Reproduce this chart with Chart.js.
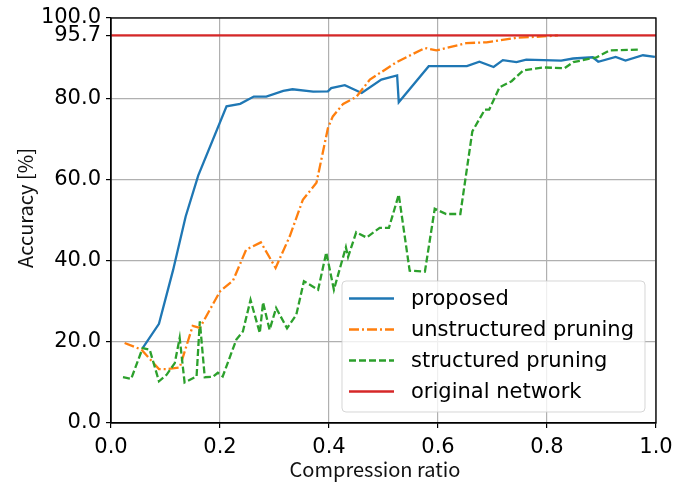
<!DOCTYPE html>
<html>
<head>
<meta charset="utf-8">
<script src="https://cdn.jsdelivr.net/npm/chart.js@4/dist/chart.umd.min.js"></script>
<style>
  html, body { margin: 0; padding: 0; background: #fff; }
  #wrap { width: 673px; height: 482px; position: relative; }
</style>
</head>
<body>
<div id="wrap"><canvas id="c" width="673" height="482"></canvas></div>
<script>
// ---- data ----
const seriesNames = ['proposed', 'unstructured pruning', 'structured pruning', 'original network'];

const proposedX = [0.058,0.088,0.114,0.137,0.16,0.212,0.237,0.262,0.285,0.316,0.333,0.371,0.398,0.404,0.429,0.46,0.496,0.525,0.528,0.583,0.653,0.676,0.702,0.719,0.744,0.762,0.826,0.848,0.884,0.894,0.926,0.944,0.976,0.998];
const proposedY = [18.5,24.5,37.8,51,61.1,78.2,78.8,80.6,80.6,82.0,82.4,81.8,81.9,82.7,83.4,81.5,84.8,85.8,79.2,88.1,88.1,89.2,87.9,89.6,89.1,89.7,89.5,90.0,90.3,89.2,90.4,89.5,90.8,90.4];

const unstructuredX = [0.025,0.056,0.088,0.102,0.126,0.15,0.163,0.2,0.224,0.248,0.275,0.302,0.328,0.352,0.377,0.398,0.407,0.426,0.45,0.475,0.524,0.576,0.597,0.652,0.689,0.744,0.799,0.82];
const unstructuredY = [19.75,18.1,13.3,13.3,13.7,24,23.5,32.5,35.2,42.8,44.6,38.3,46.1,55.1,59.3,72.8,75.7,78.8,80.5,84.8,89.1,92.6,92.0,93.8,94.0,95.1,95.5,95.7];

const structuredX = [0.022,0.037,0.058,0.071,0.088,0.102,0.117,0.126,0.135,0.157,0.163,0.172,0.187,0.196,0.205,0.23,0.242,0.256,0.273,0.279,0.291,0.303,0.323,0.34,0.354,0.38,0.395,0.409,0.431,0.435,0.45,0.469,0.493,0.51,0.528,0.548,0.576,0.594,0.615,0.641,0.663,0.686,0.694,0.713,0.735,0.757,0.793,0.832,0.848,0.891,0.915,0.967];
const structuredY = [11.3,10.9,18.5,18.1,10.3,11.9,14.8,21.0,10.0,11.5,25.1,11.3,11.4,12.4,11.5,20.6,22.6,30.4,22.2,29.8,23.0,28.4,23.4,26.7,35.0,32.9,42.1,32.9,43.4,41.0,47.1,45.8,48.2,48.2,56.4,37.6,37.4,52.9,51.6,51.6,72.0,77.4,77.4,82.9,84.4,87.1,87.8,87.6,89.1,90.3,92.0,92.2];

const originalX = [0, 1];
const originalY = [95.7, 95.7];

const xTicks = [0, 0.2, 0.4, 0.6, 0.8, 1.0];
const yTicks = [0, 20, 40, 60, 80, 95.7, 100];

const xTitle = 'Compression ratio';
const yTitle = 'Accuracy [%]';

const pts = (xs, ys) => xs.map((x, i) => ({ x: x, y: ys[i] }));

const TICK_FONT = { family: 'DejaVu Sans', size: 21 };

const framePlugin = {
  id: 'frameAndLegend',
  afterDraw(chart) {
    const ctx = chart.ctx;
    const a = chart.chartArea;
    ctx.save();
    // axes frame
    ctx.strokeStyle = '#000';
    ctx.lineWidth = 1.3;
    ctx.strokeRect(a.left, a.top, a.right - a.left, a.bottom - a.top);

    // axis titles
    ctx.fillStyle = '#111';
    ctx.font = '20px "Noto Sans CJK JP", "Noto Sans", sans-serif';
    ctx.textAlign = 'center';
    ctx.textBaseline = 'middle';
    ctx.fillText(xTitle, 375, 469);
    ctx.save();
    ctx.translate(25, 208);
    ctx.rotate(-Math.PI / 2);
    ctx.fillText(yTitle, 0, 0);
    ctx.restore();

    // legend
    const bx = 342, by = 281, bw = 303, bh = 131, r = 4;
    ctx.beginPath();
    ctx.moveTo(bx + r, by);
    ctx.lineTo(bx + bw - r, by);
    ctx.quadraticCurveTo(bx + bw, by, bx + bw, by + r);
    ctx.lineTo(bx + bw, by + bh - r);
    ctx.quadraticCurveTo(bx + bw, by + bh, bx + bw - r, by + bh);
    ctx.lineTo(bx + r, by + bh);
    ctx.quadraticCurveTo(bx, by + bh, bx, by + bh - r);
    ctx.lineTo(bx, by + r);
    ctx.quadraticCurveTo(bx, by, bx + r, by);
    ctx.closePath();
    ctx.fillStyle = 'rgba(255,255,255,0.8)';
    ctx.fill();
    ctx.strokeStyle = 'rgba(204,204,204,0.8)';
    ctx.lineWidth = 1;
    ctx.stroke();

    const rows = chart.data.datasets.slice().sort((p, q) => p.legendIndex - q.legendIndex);
    rows.forEach((ds, i) => {
      const y = 298.5 + i * 31;
      ctx.beginPath();
      ctx.setLineDash(ds.borderDash || []);
      ctx.strokeStyle = ds.borderColor;
      ctx.lineWidth = ds.borderWidth;
      ctx.moveTo(349, y);
      ctx.lineTo(394, y);
      ctx.stroke();
      ctx.setLineDash([]);
      ctx.fillStyle = '#000';
      ctx.font = '21px "DejaVu Sans"';
      ctx.textAlign = 'left';
      ctx.textBaseline = 'middle';
      ctx.fillText(ds.label, 411, y + 1);
    });
    ctx.restore();
  }
};

new Chart(document.getElementById('c'), {
  type: 'line',
  data: {
    datasets: [
      { label: seriesNames[0], data: pts(proposedX, proposedY), borderColor: '#1f77b4', borderWidth: 2.3, order: 4, legendIndex: 0 },
      { label: seriesNames[1], data: pts(unstructuredX, unstructuredY), borderColor: '#ff7f0e', borderWidth: 2.3, borderDash: [10, 3, 2, 3], order: 3, legendIndex: 1 },
      { label: seriesNames[2], data: pts(structuredX, structuredY), borderColor: '#2ca02c', borderWidth: 2.3, borderDash: [7, 3], order: 2, legendIndex: 2 },
      { label: seriesNames[3], data: pts(originalX, originalY), borderColor: '#d62728', borderWidth: 2.3, order: 1, legendIndex: 3 }
    ]
  },
  options: {
    responsive: false,
    animation: false,
    devicePixelRatio: 1,
    layout: { padding: { left: 0, right: 17, top: 18, bottom: 0 } },
    elements: { point: { radius: 0 }, line: { tension: 0, fill: false } },
    plugins: { legend: { display: false }, tooltip: { enabled: false } },
    scales: {
      x: {
        type: 'linear',
        min: 0, max: 1,
        afterBuildTicks: s => { s.ticks = xTicks.map(v => ({ value: v })); },
        afterFit: s => { s.height = 59; s.paddingLeft = 0; s.paddingRight = 0; },
        ticks: { font: TICK_FONT, color: '#000', padding: 7, maxRotation: 0, callback: v => Number(v).toFixed(1) },
        grid: { color: '#b0b0b0', lineWidth: 1.2, tickColor: '#000', tickLength: 5, drawTicks: true },
        border: { color: '#000', width: 1.3 }
      },
      y: {
        type: 'linear',
        min: 0, max: 100,
        afterBuildTicks: s => { s.ticks = yTicks.map(v => ({ value: v })); },
        afterFit: s => { s.width = 111; s.paddingTop = 0; s.paddingBottom = 0; },
        ticks: { font: TICK_FONT, color: '#000', padding: 5, autoSkip: false, callback: v => Number(v).toFixed(1) },
        grid: { color: '#b0b0b0', lineWidth: 1.2, tickColor: '#000', tickLength: 5, drawTicks: true },
        border: { color: '#000', width: 1.3 }
      }
    }
  },
  plugins: [framePlugin]
});
</script>
</body>
</html>
